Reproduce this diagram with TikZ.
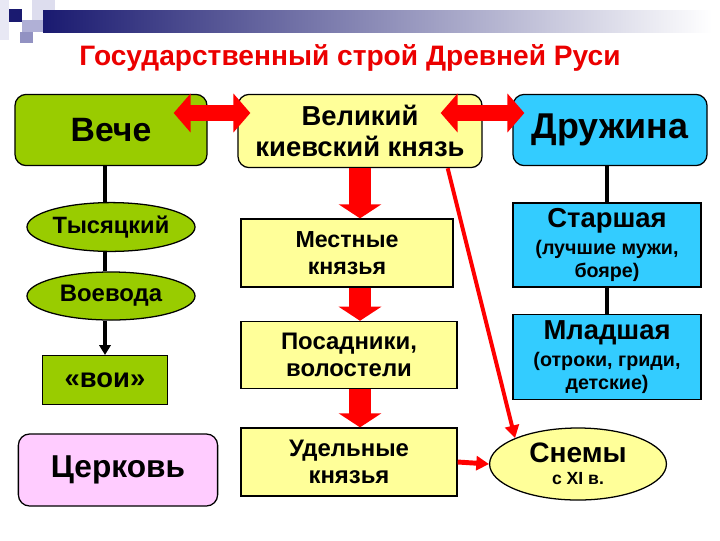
\documentclass[tikz,border=0pt]{standalone}
\usepackage{fontspec}
\setmainfont{Liberation Sans}
\usetikzlibrary{arrows.meta,shapes.geometric,calc}

\definecolor{vechegreen}{RGB}{153,204,0}
\definecolor{princeyellow}{RGB}{255,255,153}
\definecolor{guardblue}{RGB}{51,204,255}
\definecolor{churchpink}{RGB}{255,204,255}
\definecolor{navybar}{RGB}{26,26,112}
\definecolor{paleband}{RGB}{232,232,244}
\definecolor{midband}{RGB}{176,176,214}
\definecolor{arrowred}{RGB}{255,0,0}
\definecolor{titlered}{RGB}{235,0,0}

\newcommand\notefont{\fontsize{14}{16.4}\selectfont}
\newcommand\datefont{\fontsize{12.5}{15.6}\selectfont}

\begin{document}
\begin{tikzpicture}[
  x=0.025cm, y=-0.025cm,
  every node/.style={draw=black, line width=0.9pt, align=center, inner sep=2pt,
                     font=\bfseries},
  title/.style={draw=none, text=titlered, font=\fontsize{20}{24}\selectfont\bfseries},
  greenbox/.style={fill=vechegreen},
  yellowbox/.style={fill=princeyellow},
  bluebox/.style={fill=guardblue},
  pinkbox/.style={fill=churchpink},
  oval/.style={ellipse, inner sep=0pt},
  link/.style={line width=2.2pt, >={Triangle[length=7pt,width=8pt]}},
  twoway/.style={arrowred, line width=12pt, <->, >={Triangle[length=12pt,width=27pt]}},
  downarrow/.style={arrowred, line width=15.6pt, ->, >={Triangle[length=10pt,width=30pt]}},
  thinarrow/.style={arrowred, line width=2.8pt, ->, >={Triangle[length=9pt,width=10pt]}}
]
  \useasboundingbox (0,0) rectangle (720,540);

  % top band
  \fill[paleband] (0,0) rectangle (9,40);
  \fill[paleband!80!midband] (32,0) rectangle (55,22);
  \fill[midband] (22,20) rectangle (43,32);
  \fill[midband!80!navybar] (20,32) rectangle (33,43);
  \shade[left color=navybar, right color=white] (43,10) rectangle (712,32);
  \fill[navybar] (9,9) rectangle (22,22);

  \node[title] (title) at (350,58) {Государственный строй Древней Руси};

  % top row
  \node[greenbox, rounded corners=8pt, minimum width=4.8cm, minimum height=1.78cm,
        font=\fontsize{24}{28}\selectfont\bfseries] (veche) at (111,130) {Вече};
  \node[yellowbox, rounded corners=8pt, minimum width=6.1cm, minimum height=1.83cm,
        font=\fontsize{19.5}{22.5}\selectfont\bfseries] (prince) at (360,131) {Великий\\киевский князь};
  \node[bluebox, rounded corners=8pt, minimum width=4.85cm, minimum height=1.78cm,
        font=\fontsize{25.5}{28}\selectfont\bfseries] (druzhina) at (610,130) {Дружина};

  % left column
  \node[greenbox, oval, minimum width=4.2cm, minimum height=1.22cm,
        font=\fontsize{16.8}{20}\selectfont\bfseries] (thousand) at (111,227) {Тысяцкий};
  \node[greenbox, oval, minimum width=4.2cm, minimum height=1.2cm,
        font=\fontsize{17}{20}\selectfont\bfseries] (voevoda) at (111,296) {Воевода};
  \node[greenbox, minimum width=3.12cm, minimum height=1.22cm,
        font=\fontsize{19.5}{22}\selectfont\bfseries] (voi) at (105,380) {«вои»};
  \node[pinkbox, rounded corners=8pt, minimum width=4.98cm, minimum height=1.8cm,
        font=\fontsize{22.5}{26}\selectfont\bfseries] (church) at (118,470) {Церковь};

  % middle column
  \node[yellowbox, minimum width=5.3cm, minimum height=1.7cm,
        font=\fontsize{16.5}{19.5}\selectfont\bfseries] (local) at (347,253) {Местные\\князья};
  \node[yellowbox, minimum width=5.4cm, minimum height=1.68cm,
        font=\fontsize{17}{19.5}\selectfont\bfseries] (posad) at (349,355) {Посадники,\\волостели};
  \node[yellowbox, minimum width=5.4cm, minimum height=1.7cm,
        font=\fontsize{17}{19.5}\selectfont\bfseries] (udel) at (349,462) {Удельные\\князья};

  % right column
  \node[bluebox, minimum width=4.7cm, minimum height=2.1cm,
        font=\fontsize{19.5}{16.4}\selectfont\bfseries] (senior) at (607,245)
        {Старшая\\[3pt]\notefont(лучшие мужи,\\\notefont бояре)};
  \node[bluebox, minimum width=4.7cm, minimum height=2.12cm,
        font=\fontsize{19.5}{16.4}\selectfont\bfseries] (junior) at (607,357)
        {Младшая\\[3pt]\notefont(отроки, гриди,\\\notefont детские)};
  \node[yellowbox, oval, minimum width=4.42cm, minimum height=1.8cm,
        font=\fontsize{20}{15.6}\selectfont\bfseries] (snemy) at (578,464)
        {Снемы\\\datefont с XI в.};

  % black links
  \draw[link] (veche.south -| voi.north) -- (thousand.north -| voi.north);
  \draw[link] (thousand.south -| voi.north) -- (voevoda.north -| voi.north);
  \draw[link, ->] (voevoda.south -| voi.north) -- (voi.north);
  \draw[link] (druzhina.south -| senior.north) -- (senior.north);
  \draw[link] (senior.south) -- (junior.north);

  % red arrows
  \draw[twoway] ($(veche.east)+(-34,-17)$) -- ($(prince.west)+(13,-18)$);
  \draw[twoway] ($(prince.east)+(-42,-18)$) -- ($(druzhina.west)+(12,-17)$);
  \draw[downarrow] (prince.south) -- (prince.south |- local.north);
  \draw[downarrow] (prince.south |- local.south) -- (prince.south |- posad.north);
  \draw[downarrow] (prince.south |- posad.south) -- (prince.south |- udel.north);
  \draw[thinarrow] ($(prince.south east)+(-35,0)$) -- (snemy.north west);
  \draw[thinarrow, line width=3.5pt] (udel.east) -- (snemy.west);
\end{tikzpicture}
\end{document}
